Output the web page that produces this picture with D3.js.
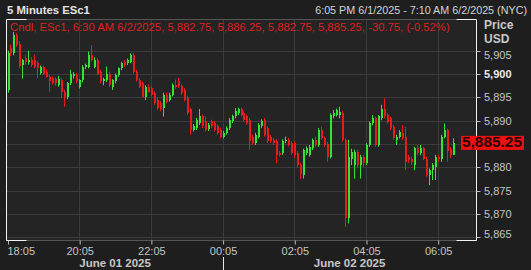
<!DOCTYPE html>
<html>
<head>
<meta charset="utf-8">
<script src="https://cdn.jsdelivr.net/npm/d3@7"></script>
<style>
body { margin: 0; background: #1e1e1e; }
svg { display: block; font-family: "Liberation Sans", Arial, sans-serif; }
</style>
</head>
<body>
<svg id="chart" width="531" height="270"></svg>
<script>
// 5 minute bars, ESc1, 6:05 PM 6/1/2025 onwards
const symbol = "ESc1";
const barMinutes = 5;
const startTime = "2025-06-01 18:05";
const endTime = "2025-06-02 07:10";
const prevClose = 5916.00;

const opens = [
  5896.5, 5905.5, 5904.5, 5908.3, 5906.5, 5902, 5903.4, 5902.5, 5903, 5903,
  5902.3, 5900.3, 5901.4, 5900.5, 5899.4, 5899.1, 5898.9, 5897.6, 5898.7, 5896.2,
  5895.1, 5898, 5899.5, 5899.8, 5897.3, 5898.7, 5901.6, 5901.6, 5904.1, 5901.6,
  5903, 5900.5, 5898.4, 5898.7, 5900.1, 5897.3, 5898.4, 5899.8, 5901.2, 5902.6,
  5902.3, 5902.6, 5904.1, 5900.5, 5898.7, 5898, 5895.1, 5897.3, 5897, 5895.9,
  5894.5, 5893.8, 5892.7, 5895.6, 5894.5, 5895.6, 5897.7, 5898.5, 5897.4, 5896.6,
  5894.9, 5892.4, 5888.1, 5888.4, 5889.5, 5890.9, 5889.9, 5888.2, 5889.9, 5889.5,
  5888.8, 5888.1, 5886.6, 5887.4, 5888.4, 5889.9, 5890.9, 5891.6, 5892.4, 5891.6,
  5890.9, 5890.2, 5886.6, 5885.2, 5886.6, 5888.8, 5890.2, 5888.4, 5886.6, 5885.9,
  5885.6, 5883.1, 5883.1, 5885.6, 5885.9, 5885.2, 5885.2, 5883.1, 5880.5, 5878.4,
  5883, 5882.6, 5884.1, 5885.9, 5884.8, 5888, 5886.2, 5885.1, 5882.3, 5890.9,
  5891.2, 5891.2, 5891.7, 5885.9, 5869.1, 5881.9, 5880.5, 5883.4, 5880.5, 5882.3,
  5880.9, 5884.8, 5889.4, 5890.5, 5884.8, 5890.5, 5892.6, 5891.2, 5890.5, 5888.7,
  5885.9, 5886.6, 5887.3, 5886.6, 5882.3, 5881.9, 5880.5, 5884.1, 5883, 5884.1,
  5881.9, 5878.4, 5879.4, 5880.1, 5882.3, 5881.9, 5886.6, 5888, 5884, 5882.75
];
const highs = [
  5905, 5906.3, 5909, 5908.8, 5907, 5903.2, 5904, 5905, 5903.6, 5904.1,
  5902.8, 5901.8, 5901.8, 5901, 5899.8, 5899.5, 5899.3, 5899.6, 5899.2, 5896.6,
  5898.3, 5900.9, 5900.4, 5900.2, 5898.9, 5901.9, 5902.2, 5904.8, 5906.2, 5903.6,
  5903.4, 5900.9, 5899.2, 5901.6, 5900.5, 5898.9, 5900.1, 5901.4, 5902.6, 5903,
  5903.3, 5904.4, 5904.5, 5900.9, 5899.1, 5898.4, 5897.6, 5897.8, 5897.4, 5896.3,
  5895, 5894.2, 5896, 5896, 5896, 5898, 5898.8, 5899.2, 5897.8, 5897,
  5895.3, 5892.8, 5889.3, 5890.6, 5892.5, 5891.3, 5890.9, 5889.5, 5890.2, 5889.9,
  5889.2, 5888.5, 5887.8, 5888.8, 5890.6, 5891.3, 5892.7, 5892.8, 5892.8, 5892,
  5891.3, 5890.6, 5887, 5887.4, 5889.5, 5890.3, 5890.6, 5888.8, 5887, 5886.3,
  5886, 5883.5, 5886, 5886.6, 5886.3, 5885.6, 5885.6, 5883.5, 5881, 5884,
  5884.5, 5884.8, 5886.2, 5886.6, 5888.4, 5888.7, 5886.6, 5885.5, 5891.6, 5892.3,
  5892.6, 5893, 5892.1, 5886.2, 5885.9, 5884, 5883.8, 5883.8, 5882.7, 5882.7,
  5885.2, 5889.8, 5891.2, 5890.9, 5891.2, 5893.4, 5894.8, 5891.6, 5890.9, 5889.1,
  5887, 5888, 5889, 5888.7, 5882.7, 5882.3, 5884.4, 5884.8, 5884.8, 5884.4,
  5882.3, 5879.8, 5880.9, 5882.7, 5882.7, 5887, 5889.4, 5888.3, 5884.3, 5886.25
];
const lows = [
  5896, 5903.8, 5904, 5905.8, 5901.3, 5899, 5902, 5902, 5901.5, 5901.2,
  5899.1, 5899.9, 5899.8, 5899.2, 5896.2, 5897.7, 5897.5, 5897.3, 5894.9, 5893,
  5894.6, 5897.6, 5899, 5898, 5896.9, 5898.2, 5901, 5901.2, 5902.6, 5901.2,
  5899.8, 5898, 5897.6, 5898.3, 5897.2, 5896.6, 5898, 5899.4, 5900.8, 5901.5,
  5901.9, 5902.3, 5900.1, 5898.4, 5897, 5895, 5894.4, 5896, 5895.1, 5893.4,
  5892.3, 5892, 5890.9, 5893.7, 5894.1, 5895.2, 5896.8, 5897, 5895.5, 5894.1,
  5891.2, 5887, 5887.7, 5888, 5889.1, 5888.4, 5887.7, 5887.8, 5888.4, 5887.7,
  5887, 5886.2, 5886.2, 5887, 5888, 5889.5, 5890.5, 5891.2, 5890.9, 5889.8,
  5889.1, 5883.8, 5884.8, 5884.8, 5886.2, 5888.4, 5886.6, 5885.2, 5885.2, 5884.8,
  5880.9, 5882.3, 5882.7, 5885.2, 5884.5, 5882.7, 5882, 5880, 5877.5, 5877.6,
  5882.6, 5882.3, 5883.7, 5884.4, 5884.4, 5885.9, 5884.4, 5881.2, 5881.9, 5890.5,
  5890.9, 5890.5, 5885.5, 5867.3, 5868, 5880.5, 5877.6, 5879.8, 5877.6, 5880.1,
  5880.5, 5884.4, 5889, 5884.4, 5884.4, 5890.1, 5890.5, 5889.4, 5888, 5885.9,
  5884.8, 5886.2, 5885.9, 5879.4, 5880.9, 5880.5, 5879.4, 5882.6, 5882.6, 5881.6,
  5878, 5876.2, 5877.3, 5877.3, 5881.2, 5881.2, 5886.2, 5881.2, 5882, 5882.75
];
const closes = [
  5904.5, 5904.5, 5908.3, 5906.2, 5901.8, 5903, 5902.5, 5903.1, 5902, 5901.6,
  5901.2, 5901.4, 5900.1, 5899.4, 5898.4, 5898.1, 5898, 5898.9, 5896.2, 5895.1,
  5898, 5900.1, 5900.1, 5898.4, 5898.7, 5901.6, 5901.9, 5904.1, 5903, 5903,
  5900.1, 5898.4, 5898.9, 5900.1, 5897.6, 5898.7, 5899.8, 5901.2, 5902.3, 5901.9,
  5903, 5904.1, 5900.5, 5898.7, 5897.3, 5895.1, 5897.3, 5896.2, 5895.5, 5893.8,
  5892.7, 5892.4, 5895.6, 5894.1, 5895.6, 5897.7, 5897.2, 5897.4, 5895.9, 5894.5,
  5891.6, 5888.1, 5888.8, 5890.2, 5890.9, 5888.8, 5888.1, 5889.1, 5888.8, 5888.1,
  5887.4, 5886.6, 5887.4, 5888.4, 5890.2, 5890.9, 5892, 5892.4, 5891.3, 5890.2,
  5889.5, 5885.6, 5885.2, 5887, 5889.1, 5889.9, 5887, 5885.6, 5885.6, 5885.2,
  5882.7, 5882.7, 5885.6, 5885.9, 5884.9, 5883.1, 5882.7, 5880.5, 5878.5, 5883.7,
  5884.1, 5884.4, 5885.9, 5884.8, 5888, 5886.2, 5884.8, 5882.3, 5891.2, 5891.6,
  5892.3, 5891.9, 5885.9, 5869.1, 5882.3, 5883.4, 5883.4, 5880.5, 5882.3, 5880.9,
  5884.8, 5889.4, 5890.5, 5884.8, 5890.9, 5892.6, 5890.9, 5889.8, 5888.4, 5886.2,
  5886.6, 5887.6, 5886.2, 5881.2, 5881.6, 5881.2, 5884.1, 5883, 5884.1, 5881.9,
  5878.4, 5879.4, 5880.5, 5882.3, 5881.9, 5886.6, 5888, 5883.5, 5882.75, 5885.25
];

const xTickTimes = ["2025-06-01 18:05", "2025-06-01 20:05", "2025-06-01 22:05", "2025-06-02 00:05",
                    "2025-06-02 02:05", "2025-06-02 04:05", "2025-06-02 06:05"];
const yTickValues = [5905, 5900, 5895, 5890, 5880, 5875, 5870, 5865];
const yGridValues = [5865, 5870, 5875, 5880, 5885, 5890, 5895, 5900, 5905];
const dateLabels = ["June 01 2025", "June 02 2025"];
const dateBreaks = ["2025-06-01 18:05", "2025-06-02 00:05", "2025-06-02 07:10"];

const parseTime = d3.timeParse("%Y-%m-%d %H:%M");
const loc = d3.formatLocale({ decimal: ".", thousands: ",", grouping: [3], currency: ["$", ""], minus: "-" });
const fmtPrice = loc.format(",.2f");
const fmtChange = loc.format(".2f");
const fmtStamp = d3.timeFormat("%-I:%M %p %-m/%-d/%Y");

const plotLeft = 6.5, plotRight = 476.5, plotTop = 19.5, plotBottom = 240.5;
const green = "#36e236", red = "#e51c1c";

const t0 = parseTime(startTime);
const t1 = parseTime(endTime);

const bars = closes.map((c, i) => ({
    t: d3.timeMinute.offset(t0, i * barMinutes),
    o: opens[i], h: highs[i], l: lows[i], c: c
}));

const x = d3.scaleTime().domain([t0, t1]).range([7.5, 476.5]);
const y = d3.scaleLinear().domain([5864.45, 5911.78]).range([240, 19]);

const svg = d3.select("#chart");

// shrink or grow a text until it has the wanted width
function fitWidth(text, width) {
    const w = text.node().getComputedTextLength();
    const fs = parseFloat(text.attr("font-size"));
    text.attr("font-size", (fs * width / w).toFixed(2));
}

// plot background
svg.append("rect")
    .attr("x", plotLeft).attr("y", plotTop)
    .attr("width", plotRight - plotLeft).attr("height", plotBottom - plotTop)
    .attr("fill", "#242424");

// grid
const grid = svg.append("g").attr("class", "grid")
    .attr("stroke", "#3b3b3b").attr("stroke-width", 1);
grid.selectAll("line.h")
    .data(yGridValues)
    .enter().append("line")
    .attr("class", "h")
    .attr("x1", plotLeft).attr("x2", plotRight)
    .attr("y1", d => Math.round(y(d)) + 0.5)
    .attr("y2", d => Math.round(y(d)) + 0.5);
grid.selectAll("line.v")
    .data(xTickTimes.slice(1).map(parseTime))
    .enter().append("line")
    .attr("class", "v")
    .attr("x1", d => Math.round(x(d)) + 0.5)
    .attr("x2", d => Math.round(x(d)) + 0.5)
    .attr("y1", plotTop).attr("y2", plotBottom);

// candles
const candles = svg.append("g")
    .attr("class", "candles")
    .selectAll("g")
    .data(bars)
    .enter().append("g")
    .attr("fill", d => d.c >= d.o ? green : red)
    .attr("stroke", d => d.c >= d.o ? green : red);

candles.append("line")
    .attr("x1", d => Math.round(x(d.t)) + 0.5)
    .attr("x2", d => Math.round(x(d.t)) + 0.5)
    .attr("y1", d => y(d.h))
    .attr("y2", d => y(d.l))
    .attr("stroke-width", 1);

candles.append("rect")
    .attr("stroke", "none")
    .attr("shape-rendering", "crispEdges")
    .attr("x", d => Math.round(x(d.t)))
    .attr("width", 2)
    .attr("y", d => y(Math.max(d.o, d.c)))
    .attr("height", d => Math.max(1, Math.abs(y(d.o) - y(d.c))));

// frame: gray edges, white corners and sides
const frame = svg.append("g").attr("class", "frame").attr("fill", "none");
frame.append("line").attr("x1", plotLeft).attr("x2", plotRight).attr("y1", plotTop).attr("y2", plotTop).attr("stroke", "#555");
frame.append("line").attr("x1", plotLeft).attr("x2", plotRight).attr("y1", plotBottom).attr("y2", plotBottom).attr("stroke", "#555");
frame.append("path")
    .attr("stroke", "#f2f2f2")
    .attr("d", `M${plotLeft + 20},${plotTop}H${plotLeft}V${plotBottom}H${plotLeft + 20}` +
               `M${plotRight - 20},${plotTop}H${plotRight}V${plotBottom}H${plotRight - 20}`);

// y axis on the right
const yAxis = svg.append("g").attr("class", "y-axis");
yAxis.selectAll("line")
    .data(yTickValues)
    .enter().append("line")
    .attr("x1", plotRight).attr("x2", plotRight + 4)
    .attr("y1", d => Math.round(y(d)) + 0.5)
    .attr("y2", d => Math.round(y(d)) + 0.5)
    .attr("stroke", "#bdbdbd");
yAxis.selectAll("text")
    .data(yTickValues)
    .enter().append("text")
    .attr("x", 484)
    .attr("y", d => Math.max(55, Math.min(234, y(d))))
    .attr("dy", "0.36em")
    .attr("font-size", 11)
    .attr("font-weight", d => d % 100 === 0 ? "bold" : "normal")
    .attr("fill", d => d % 100 === 0 ? "#ececec" : "#c4c4c4")
    .text(d => loc.format(",")(d));

svg.append("text").attr("x", 484).attr("y", 29)
    .attr("font-size", 12).attr("font-weight", "bold").attr("fill", "#c8c8c8").text("Price");
svg.append("text").attr("x", 484).attr("y", 43)
    .attr("font-size", 12).attr("font-weight", "bold").attr("fill", "#c8c8c8").text("USD");

// x axis
const xAxis = svg.append("g")
    .attr("class", "x-axis")
    .attr("transform", `translate(0.5,${plotBottom})`)
    .call(d3.axisBottom(x)
        .tickValues(xTickTimes.map(parseTime))
        .tickFormat(d3.timeFormat("%H:%M"))
        .tickSize(4));
xAxis.select(".domain").remove();
xAxis.selectAll("line").attr("stroke", "#bdbdbd");
xAxis.selectAll("text")
    .attr("font-size", 11)
    .attr("font-family", null)
    .attr("fill", "#c4c4c4");
xAxis.select(".tick text").attr("text-anchor", "start").attr("x", -1);

// day labels under the time axis
const breaks = dateBreaks.map(parseTime);
svg.append("g").attr("class", "dates")
    .selectAll("text")
    .data(dateLabels)
    .enter().append("text")
    .attr("x", (d, i) => (x(breaks[i]) + x(breaks[i + 1])) / 2)
    .attr("y", 267)
    .attr("text-anchor", "middle")
    .attr("font-size", 11.5)
    .attr("font-weight", "bold")
    .attr("fill", "#c8c8c8")
    .text(d => d);
svg.append("line")
    .attr("x1", Math.round(x(breaks[1])) + 0.5)
    .attr("x2", Math.round(x(breaks[1])) + 0.5)
    .attr("y1", 257).attr("y2", 270)
    .attr("stroke", "#e8e8e8");

// header
const title = svg.append("text").attr("x", 7).attr("y", 14)
    .attr("font-size", 12).attr("font-weight", "bold").attr("fill", "#e4e4e4")
    .text(`5 Minutes ${symbol}`);
fitWidth(title, 83);

const span = svg.append("text").attr("x", 527).attr("y", 14)
    .attr("text-anchor", "end")
    .attr("font-size", 11).attr("fill", "#d4d4d4")
    .text(`${fmtStamp(t0)} - ${fmtStamp(t1)} (NYC)`);
fitWidth(span, 212);

// legend for the last bar
const last = bars[bars.length - 1];
const change = last.c - prevClose;
const legend = svg.append("text").attr("x", 10).attr("y", 31)
    .attr("font-size", 11).attr("fill", "#de2020")
    .text(`Cndl, ${symbol}, ${fmtStamp(last.t)}, ${fmtPrice(last.o)}, ${fmtPrice(last.h)}, ` +
          `${fmtPrice(last.l)}, ${fmtPrice(last.c)}, ${fmtChange(change)}, (${fmtChange(change / prevClose * 100)}%)`);
fitWidth(legend, 440);

// last price tag
const tagY = y(last.c);
svg.append("rect")
    .attr("x", 461).attr("y", tagY - 7)
    .attr("width", 63).attr("height", 14)
    .attr("fill", "#f01010");
const tag = svg.append("text")
    .attr("x", 462).attr("y", tagY + 4.5)
    .attr("font-size", 12).attr("font-weight", "bold")
    .attr("fill", "#2a0000")
    .text(fmtPrice(last.c));
fitWidth(tag, 60);
</script>
</body>
</html>
